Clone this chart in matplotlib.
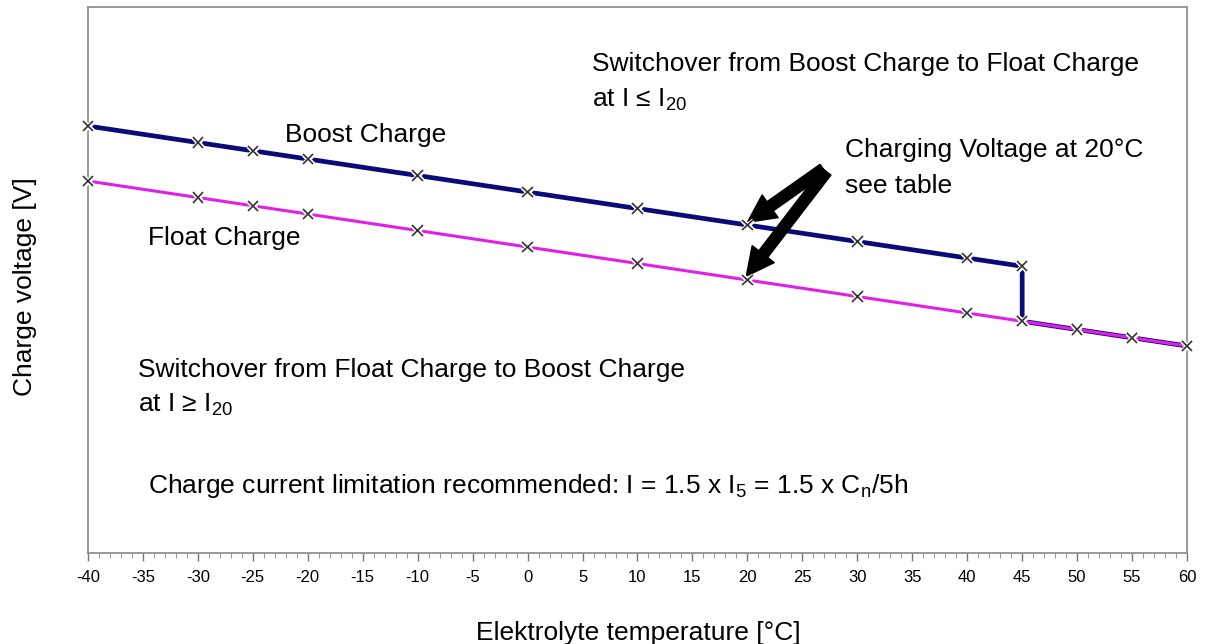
import matplotlib
matplotlib.use('Agg')
import matplotlib.pyplot as plt
import matplotlib.patheffects as pe
from matplotlib.ticker import MultipleLocator

plt.rcParams['font.family'] = ['Liberation Sans', 'DejaVu Sans']
plt.rcParams['mathtext.fontset'] = 'custom'
plt.rcParams['mathtext.rm'] = 'Liberation Sans'

# charging voltage per cell (y axis has no printed scale)
float_temp = [-40, -30, -25, -20, -10, 0, 10, 20, 30, 40, 45, 50, 55, 60]
float_volt = [2.43, 2.40, 2.385, 2.37, 2.34, 2.31, 2.28, 2.25, 2.22, 2.19, 2.175, 2.16, 2.145, 2.13]

boost_temp = [-40, -30, -25, -20, -10, 0, 10, 20, 30, 40, 45, 45, 50, 55, 60]
boost_volt = [2.53, 2.50, 2.485, 2.47, 2.44, 2.41, 2.38, 2.35, 2.32, 2.29, 2.275, 2.175, 2.16, 2.145, 2.13]

xticks = list(range(-40, 61, 5))

fig = plt.figure(figsize=(12.13, 6.44), dpi=100)
ax = fig.add_axes([0.0725, 0.1413, 0.9061, 0.8478])

ax.plot(boost_temp, boost_volt, color='#0a0a78', lw=3.4, solid_capstyle='butt', zorder=2)
ax.plot(float_temp, float_volt, color='#e020e8', lw=2.2, solid_capstyle='butt', zorder=3)

halo = [pe.withStroke(linewidth=3.5, foreground='white')]
ax.plot(boost_temp, boost_volt, ls='none', marker='x', ms=7.5, mew=1.2, color='#333333',
        path_effects=halo, zorder=4, clip_on=False)
ax.plot(float_temp, float_volt, ls='none', marker='x', ms=7.5, mew=1.2, color='#333333',
        path_effects=halo, zorder=4, clip_on=False)

ax.set_xlim(-40, 60)
ax.set_ylim(1.7536, 2.7464)
ax.set_xticks(xticks)
ax.set_xticklabels([str(t) for t in xticks])
ax.xaxis.set_minor_locator(MultipleLocator(1))
ax.set_yticks([])
ax.tick_params(axis='x', which='major', length=6, width=1, color='#777777', labelsize=12, pad=6)
ax.tick_params(axis='x', which='minor', length=3.5, width=0.8, color='#999999')
for s in ax.spines.values():
    s.set_color('#888888')
    s.set_linewidth(1.2)

fs = 19

def txt(px, py, s):
    # position taken from the reference layout, in figure pixels
    fig.text(px / 1213, 1 - py / 644, s, fontsize=fs, va='center', ha='left')

fig.text(638 / 1213, 1 - 633 / 644, 'Elektrolyte temperature [°C]', fontsize=fs,
         ha='center', va='center')
fig.text(25 / 1213, 1 - 287 / 644, 'Charge voltage [V]', fontsize=fs,
         ha='center', va='center', rotation=90)

txt(592, 64, 'Switchover from Boost Charge to Float Charge')
txt(592, 100, r'at I ≤ I$_{\mathregular{20}}$')
txt(285, 135, 'Boost Charge')
txt(148, 238, 'Float Charge')
txt(845, 150, 'Charging Voltage at 20°C')
txt(845, 186, 'see table')
txt(138, 370, 'Switchover from Float Charge to Boost Charge')
txt(138, 405, r'at I ≥ I$_{\mathregular{20}}$')
txt(148, 486, r'Charge current limitation recommended: I = 1.5 x I$_{\mathregular{5}}$ = 1.5 x C$_{\mathregular{n}}$/5h')

arrow = dict(arrowstyle='simple,head_length=2.0,head_width=2.0,tail_width=0.8',
             color='black', shrinkA=0, shrinkB=0)
ax.annotate('', xy=(20.0, 2.355), xytext=(26.9, 2.452), arrowprops=arrow)
ax.annotate('', xy=(19.9, 2.257), xytext=(27.2, 2.447), arrowprops=arrow)

fig.savefig('out.png', dpi=100)
